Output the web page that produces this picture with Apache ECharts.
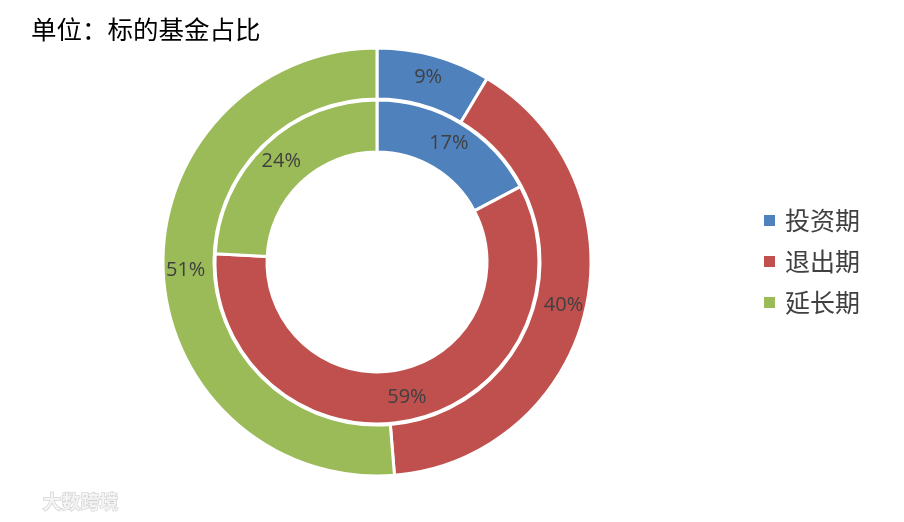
<!DOCTYPE html>
<html><head><meta charset="utf-8">
<script src="https://cdn.jsdelivr.net/npm/echarts@6/dist/echarts.min.js"></script>
<style>html,body{margin:0;padding:0;background:#fff}#c{width:904px;height:522px}</style>
</head><body><div id="c"></div>
<script>
const categories = ['投资期', '退出期', '延长期'];
const outerValues = [8.6, 40.1, 51.3];
const innerValues = [17.3, 58.5, 24.2];
const colors = ['#4F81BD', '#C0504D', '#9BBB59'];

const chart = echarts.init(document.getElementById('c'));
const labelStyle = {
  show: true, position: 'inside', formatter: p => Math.round(p.value) + '%',
  color: '#404040', fontSize: 20, fontFamily: 'Open Sans, Noto Sans CJK SC, sans-serif'
};
const mk = vals => vals.map((v, i) => ({ name: categories[i], value: v }));
chart.setOption({
  animation: false,
  color: colors,
  title: {
    text: '单位：标的基金占比', left: 26, top: 12,
    textStyle: { fontSize: 25.5, fontWeight: 'normal', color: '#000', fontFamily: 'Noto Sans CJK SC' }
  },
  legend: {
    orient: 'vertical', left: 757, top: 203, itemWidth: 13, itemHeight: 13, itemGap: 16,
    icon: 'rect', data: categories,
    textStyle: { fontSize: 25, color: '#404040', fontFamily: 'Noto Sans CJK SC', padding: [0, 0, 0, 4] }
  },
  graphic: [{
    type: 'text', left: 42, top: 492,
    style: { text: '大数跨境', fontSize: 19, fontWeight: 'bold', fill: '#f4f4f4', stroke: '#c8c8c8', lineWidth: 1, fontFamily: 'Noto Sans CJK SC' }
  }],
  series: [
    {
      type: 'pie', center: [377, 262], radius: [163, 214], startAngle: 90, clockwise: true,
      data: mk(outerValues), label: labelStyle, labelLine: { show: false },
      itemStyle: { borderColor: '#fff', borderWidth: 3 }, emphasis: { disabled: true }
    },
    {
      type: 'pie', center: [377, 262], radius: [110, 162], startAngle: 90, clockwise: true,
      data: mk(innerValues), label: labelStyle, labelLine: { show: false },
      itemStyle: { borderColor: '#fff', borderWidth: 3 }, emphasis: { disabled: true }
    }
  ]
});
</script></body></html>
